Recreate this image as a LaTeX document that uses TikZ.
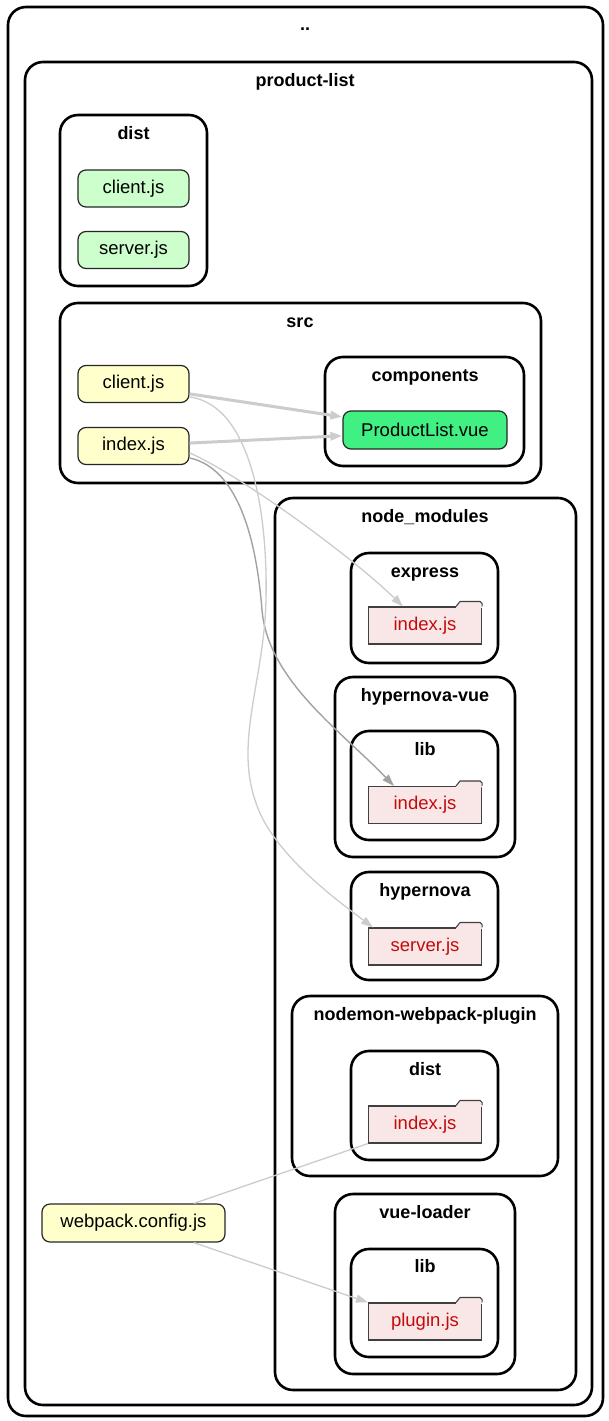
\documentclass[tikz,border=0pt]{standalone}
\usepackage{fontspec}
\setmainfont{Liberation Sans}
\usetikzlibrary{arrows.meta}

\definecolor{npmred}{HTML}{C40B0A}
\definecolor{npmfill}{HTML}{F9E7E7}
\definecolor{srcfill}{HTML}{FFFFCC}
\definecolor{distfill}{HTML}{CCFFCC}
\definecolor{vuefill}{HTML}{41F083}
\definecolor{edgelight}{HTML}{CCCCCC}
\definecolor{edgedark}{HTML}{A2A2A2}

\begin{document}
\begin{tikzpicture}[x=1pt,y=-1pt,
  cluster/.style={draw=black, line width=2.6pt, rounded corners=18pt, fill=white},
  clabel/.style={font=\fontsize{18}{20}\selectfont\bfseries, inner sep=0pt, anchor=base},
  module/.style={draw=black!85, line width=1.2pt, rounded corners=8pt, fill=srcfill,
    minimum height=37pt, minimum width=111pt, inner sep=0pt,
    font=\fontsize{18.5}{20}\selectfont},
  distmod/.style={module, fill=distfill},
  vuemod/.style={module, fill=vuefill, minimum width=164pt, minimum height=38pt},
  npmmod/.style={draw=black!75, line width=1.1pt, fill=npmfill, minimum width=113pt,
    minimum height=37pt, inner sep=0pt, text=npmred, font=\fontsize{18.5}{20}\selectfont},
  tabline/.style={draw=black!75, line width=1.1pt, line join=round},
  dep/.style={draw=edgelight, line width=1.3pt, -{Triangle[length=12pt,width=8pt]}},
  depthick/.style={dep, line width=3pt},
  depdark/.style={dep, draw=edgedark, line width=1.4pt},
  depplain/.style={draw=edgelight, line width=1.3pt}
]
\useasboundingbox (0,0) rectangle (609,1421);
\fill[white] (0,0) rectangle (609,1421);

% folder clusters
\draw[cluster] (8,7) rectangle (603,1416);
\node[clabel] (lRoot) at (305,31) {..};
\draw[cluster] (25,62) rectangle (592,1405);
\node[clabel] (lProd) at (305,86) {product-list};

\draw[cluster] (60,115) rectangle (207,286);
\node[clabel] (lDist) at (133.5,139) {dist};

\draw[cluster] (60,303) rectangle (541,483);
\node[clabel] (lSrc) at (300,327) {src};
\draw[cluster] (325,357) rectangle (524,466);
\node[clabel] (lComp) at (425,381) {components};

\draw[cluster] (275,498) rectangle (576,1390);
\node[clabel] (lNm) at (425,522) {node\_modules};

\draw[cluster] (351,553) rectangle (498,663);
\node[clabel] (lEx) at (425,577) {express};

\draw[cluster] (335,677) rectangle (515,857);
\node[clabel] (lHv) at (425,701) {hypernova-vue};
\draw[cluster] (351,731) rectangle (498,840);
\node[clabel] (lHvLib) at (425,755) {lib};

\draw[cluster] (351,872) rectangle (498,980);
\node[clabel] (lHn) at (425,896) {hypernova};

\draw[cluster] (292,996) rectangle (558,1176);
\node[clabel] (lNw) at (425,1020) {nodemon-webpack-plugin};
\draw[cluster] (351,1051) rectangle (498,1160);
\node[clabel] (lNwDist) at (425,1075) {dist};

\draw[cluster] (335,1194) rectangle (515,1374);
\node[clabel] (lVl) at (425,1218) {vue-loader};
\draw[cluster] (351,1249) rectangle (498,1357);
\node[clabel] (lVlLib) at (425,1272) {lib};

% modules
\node[distmod] (dc) at (133.5,188.5) {client.js};
\node[distmod] (ds) at (133.5,250) {server.js};
\node[module] (sc) at (133.5,384) {client.js};
\node[module] (si) at (133.5,446) {index.js};
\node[vuemod] (plv) at (425,430) {ProductList.vue};
\node[module, minimum width=183pt, minimum height=38pt] (wp) at (133.5,1223) {webpack.config.js};

\node[npmmod] (fEx) at (425,625.5) {index.js};
\node[npmmod] (fHv) at (425,805) {index.js};
\node[npmmod] (fHn) at (425,946.5) {server.js};
\node[npmmod] (fNw) at (425,1124.5) {index.js};
\node[npmmod] (fVl) at (425,1321.5) {plugin.js};

% folder tabs on the npm modules
\foreach \f in {fEx,fHv,fHn,fNw,fVl}{
  \fill[npmfill] ([xshift=-26pt]\f.north east) -- ++(4,-5) -- ++(20,0) -- ++(2,2)
    -- ++(0,4.5) -- ++(-26,0) -- cycle;
  \draw[tabline] ([xshift=-26pt]\f.north east) -- ++(4,-5) -- ++(20,0) -- ++(2,2)
    -- (\f.north east);
}

% dependencies
\draw[depthick] (sc.-10) -- (plv.171);
\draw[depthick] (si.3) -- (plv.184);
\draw[dep] (si.-7) .. controls (240,475) and (350,555) .. ([xshift=-22pt]fEx.north);
\draw[depdark] (si.-12) .. controls (245,470) and (258,560) .. (262,610)
  .. controls (268,680) and (340,730) .. ([xshift=-31pt]fHv.north);
\draw[dep] (sc.-13) .. controls (250,405) and (268,510) .. (266,600)
  .. controls (264,680) and (235,740) .. (255,800)
  .. controls (270,850) and (330,895) .. ([xshift=-52pt]fHn.north);
\draw[depplain] (wp.18) -- (fNw.south west);
\draw[dep] (wp.-18) -- (fVl.north west);
\end{tikzpicture}
\end{document}
